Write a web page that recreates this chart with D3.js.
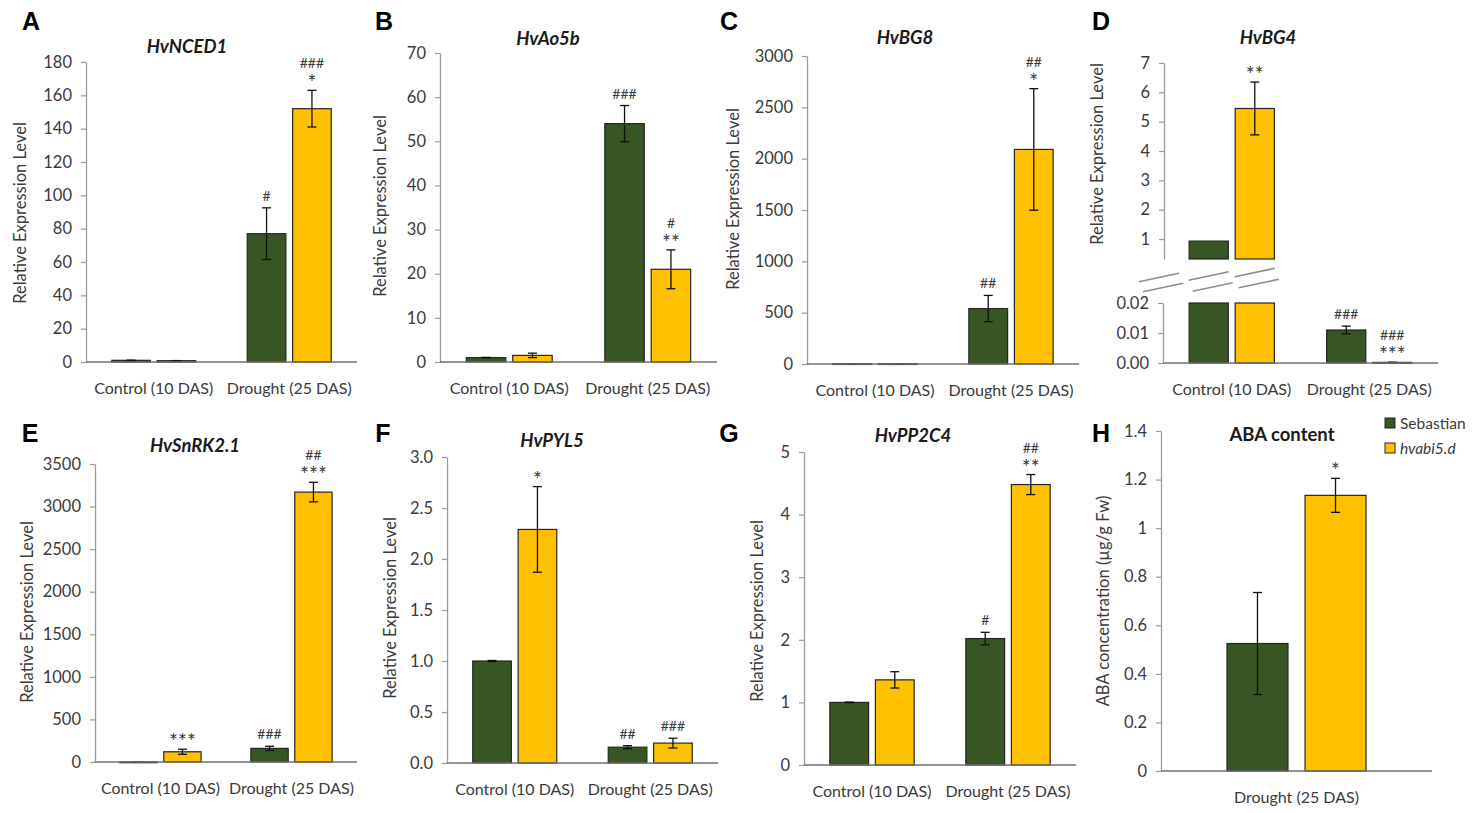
<!DOCTYPE html>
<html><head><meta charset="utf-8">
<script src="https://cdn.jsdelivr.net/npm/d3@7/dist/d3.min.js"></script>
<style>body{margin:0;background:#fff}svg{display:block}text{font-family:Lato,"Open Sans",sans-serif}</style>
</head><body><svg id="c" width="1479" height="813"></svg>
<script>
// ---------------- DATA ----------------
const categories = ["Control (10 DAS)", "Drought (25 DAS)"];
const categoriesH = ["Drought (25 DAS)"];
const seriesNames = ["Sebastian", "hvabi5.d"];

// A HvNCED1
const nced1Seb = [1.0, 77];   const nced1SebErr = [0.05, 15.5];
const nced1Abi = [0.8, 152];  const nced1AbiErr = [0.05, 11];
const nced1SebSig = [[], ["#"]]; const nced1AbiSig = [[], ["###", "*"]];
const nced1Ticks = [0, 20, 40, 60, 80, 100, 120, 140, 160, 180];
// B HvAo5b
const ao5bSeb = [1.0, 54];    const ao5bSebErr = [0.05, 4.1];
const ao5bAbi = [1.5, 21];    const ao5bAbiErr = [0.5, 4.4];
const ao5bSebSig = [[], ["###"]]; const ao5bAbiSig = [[], ["#", "**"]];
const ao5bTicks = [0, 10, 20, 30, 40, 50, 60, 70];
// C HvBG8
const bg8Seb = [3, 540];      const bg8SebErr = [0.5, 128];
const bg8Abi = [3, 2090];     const bg8AbiErr = [0.5, 592];
const bg8SebSig = [[], ["##"]]; const bg8AbiSig = [[], ["##", "*"]];
const bg8Ticks = [0, 500, 1000, 1500, 2000, 2500, 3000];
// D HvBG4 (broken axis)
const bg4Seb = [0.93, 0.011];   const bg4SebErr = [0, 0.0013];
const bg4Abi = [5.45, 0.0002];  const bg4AbiErr = [0.9, 0.00005];
const bg4SebSig = [[], ["###"]]; const bg4AbiSig = [["**"], ["###", "***"]];
const bg4TicksUpper = [1, 2, 3, 4, 5, 6, 7];
const bg4TicksLower = [0, 0.01, 0.02];
// E HvSnRK2.1
const snrkSeb = [1, 160];     const snrkSebErr = [1, 25];
const snrkAbi = [120, 3170];  const snrkAbiErr = [30, 115];
const snrkSebSig = [[], ["###"]]; const snrkAbiSig = [["***"], ["##", "***"]];
const snrkTicks = [0, 500, 1000, 1500, 2000, 2500, 3000, 3500];
// F HvPYL5
const pyl5Seb = [1.0, 0.155]; const pyl5SebErr = [0.005, 0.015];
const pyl5Abi = [2.29, 0.195]; const pyl5AbiErr = [0.42, 0.048];
const pyl5SebSig = [[], ["##"]]; const pyl5AbiSig = [["*"], ["###"]];
const pyl5Ticks = [0, 0.5, 1.0, 1.5, 2.0, 2.5, 3.0];
// G HvPP2C4
const pp2cSeb = [1.0, 2.02];  const pp2cSebErr = [0.005, 0.1];
const pp2cAbi = [1.36, 4.48]; const pp2cAbiErr = [0.13, 0.16];
const pp2cSebSig = [[], ["#"]]; const pp2cAbiSig = [[], ["##", "**"]];
const pp2cTicks = [0, 1, 2, 3, 4, 5];
// H ABA content
const abaSeb = [0.525];  const abaSebErr = [0.21];
const abaAbi = [1.135];  const abaAbiErr = [0.07];
const abaSebSig = [[]];  const abaAbiSig = [["*"]];
const abaTicks = [0, 0.2, 0.4, 0.6, 0.8, 1, 1.2, 1.4];

// ---------------- STYLE ----------------
const COL = ["#375623", "#FFC000"];
const BORDER = "#262626";
const YAXIS = "#9a9a9a", XAXIS = "#707070", TXT = "#3a3a3a";

const svg = d3.select("#c");
const ylab = "Relative Expression Level";

function mkPanel(o) {
  const g = svg.append("g");
  const x = d3.scaleBand().domain(o.cats).range([o.x0, o.x1]);
  const bw = x.bandwidth() * (o.bwf || 0.285), gap = x.bandwidth() * (o.gapf || 0.05);
  const xs = (ci, s) => x(o.cats[ci]) + x.bandwidth() / 2 + (s === 0 ? -gap / 2 - bw : gap / 2);
  return {g, x, bw, xs};
}

function drawAxisY(g, y, ticks, fmt, x0) {
  const ax = g.append("g").attr("transform", `translate(${x0},0)`)
    .call(d3.axisLeft(y).tickValues(ticks).tickFormat(fmt).tickSize(5).tickSizeOuter(0).tickPadding(9));
  ax.select(".domain").attr("stroke", YAXIS).attr("stroke-width", 1.3);
  ax.selectAll(".tick line").attr("stroke", YAXIS).attr("stroke-width", 1.2);
  ax.selectAll(".tick text").attr("fill", TXT).style("font-size", "16.5px").style("font-family", "Lato");
  return ax;
}

function drawXAxis(g, o) {
  g.append("line").attr("x1", o.x0).attr("x2", o.x1).attr("y1", o.yB).attr("y2", o.yB)
    .attr("stroke", XAXIS).attr("stroke-width", 1.5);
}

function drawLabels(g, o, P) {
  g.append("text").attr("x", o.letter[0]).attr("y", o.letter[1]).attr("text-anchor", "middle")
    .attr("dominant-baseline", "central").style("font-family", "Arial, 'Liberation Sans'")
    .style("font-weight", "bold").style("font-size", "25px").attr("fill", "#000").text(o.letterText);
  g.append("text").attr("x", o.title[0]).attr("y", o.title[1]).attr("text-anchor", "middle")
    .attr("dominant-baseline", "central").style("font-weight", "bold")
    .style("font-style", o.titleItalic === false ? "normal" : "italic").style("font-size", "18.5px")
    .attr("fill", "#1a1a1a").text(o.titleText);
  g.append("text").attr("transform", `translate(${o.ylab[0]},${o.ylab[1]}) rotate(-90)`)
    .attr("text-anchor", "middle").attr("dominant-baseline", "central")
    .style("font-size", "16.5px").attr("fill", TXT).text(o.ylabText || ylab);
  g.selectAll(".xl").data(o.cats).enter().append("text")
    .attr("x", d => P.x(d) + P.x.bandwidth() / 2).attr("y", o.yB + 25)
    .attr("text-anchor", "middle").attr("dominant-baseline", "central")
    .style("font-size", "16px").attr("fill", TXT).text(d => d);
}

function drawSig(g, xc, yTop, lines) {
  const n = lines.length;
  lines.forEach((t, i) => {
    const cy = yTop - 12 - (n - 1 - i) * 15;
    const isStar = t.indexOf("*") >= 0;
    g.append("text").attr("x", xc).attr("y", cy + (isStar ? 12 : 5)).attr("text-anchor", "middle")
      .style("font-size", isStar ? "21px" : "14px").attr("fill", TXT).text(t);
  });
}

function drawErr(g, xc, y, v, e) {
  if (!e) return;
  const t = y(v + e), b = y(v - e);
  g.append("line").attr("x1", xc).attr("x2", xc).attr("y1", t).attr("y2", b).attr("stroke", "#111").attr("stroke-width", 1.3);
  [t, b].forEach(yy => g.append("line").attr("x1", xc - 4.5).attr("x2", xc + 4.5).attr("y1", yy).attr("y2", yy)
    .attr("stroke", "#111").attr("stroke-width", 1.3));
}

function panel(o) {
  const P = mkPanel(o);
  const g = P.g;
  const y = d3.scaleLinear().domain(o.domain).range([o.yB, o.yT]);
  drawAxisY(g, y, o.ticks, o.fmt, o.x0);
  const series = [[o.v0, o.e0, o.s0], [o.v1, o.e1, o.s1]];
  series.forEach((ser, s) => {
    const [vals, errs, sigs] = ser;
    vals.forEach((v, ci) => {
      const xL = P.xs(ci, s);
      g.append("rect").attr("x", xL).attr("y", y(v)).attr("width", P.bw)
        .attr("height", Math.max(0.8, o.yB - y(v))).attr("fill", COL[s]).attr("stroke", BORDER).attr("stroke-width", 1.2);
      const xc = xL + P.bw / 2;
      drawErr(g, xc, y, v, errs[ci]);
      if (sigs[ci].length) drawSig(g, xc, y(v + (errs[ci] || 0)), sigs[ci]);
    });
  });
  drawXAxis(g, o);
  drawLabels(g, o, P);
  return {P, y};
}

const f0 = d3.format("d"), f1 = d3.format(".1f"), f2 = d3.format(".2f"), fg = d3.format("~g");

panel({cats: categories, x0: 86, x1: 357, yB: 362, yT: 62, domain: [0, 180], ticks: nced1Ticks, fmt: f0,
  v0: nced1Seb, e0: nced1SebErr, s0: nced1SebSig, v1: nced1Abi, e1: nced1AbiErr, s1: nced1AbiSig,
  letter: [31, 21], letterText: "A", title: [187, 46], titleText: "HvNCED1", ylab: [20, 213]});
panel({cats: categories, x0: 440, x1: 717, yB: 362, yT: 53, domain: [0, 70], ticks: ao5bTicks, fmt: f0,
  v0: ao5bSeb, e0: ao5bSebErr, s0: ao5bSebSig, v1: ao5bAbi, e1: ao5bAbiErr, s1: ao5bAbiSig,
  letter: [384, 21], letterText: "B", title: [548, 38], titleText: "HvAo5b", ylab: [380, 206]});
panel({cats: categories, x0: 807, x1: 1079, yB: 364, yT: 56, domain: [0, 3000], ticks: bg8Ticks, fmt: f0,
  v0: bg8Seb, e0: bg8SebErr, s0: bg8SebSig, v1: bg8Abi, e1: bg8AbiErr, s1: bg8AbiSig,
  letter: [729, 21], letterText: "C", title: [905, 37], titleText: "HvBG8", ylab: [733, 199]});
panel({cats: categories, x0: 95, x1: 357, yB: 762, yT: 464, domain: [0, 3500], ticks: snrkTicks, fmt: f0,
  v0: snrkSeb, e0: snrkSebErr, s0: snrkSebSig, v1: snrkAbi, e1: snrkAbiErr, s1: snrkAbiSig,
  letter: [30, 433], letterText: "E", title: [195, 445], titleText: "HvSnRK2.1", ylab: [27, 612]});
panel({cats: categories, x0: 447, x1: 718, yB: 763, yT: 457, domain: [0, 3], ticks: pyl5Ticks, fmt: f1,
  v0: pyl5Seb, e0: pyl5SebErr, s0: pyl5SebSig, v1: pyl5Abi, e1: pyl5AbiErr, s1: pyl5AbiSig,
  letter: [383, 433], letterText: "F", title: [552, 440], titleText: "HvPYL5", ylab: [390, 608]});
panel({cats: categories, x0: 804, x1: 1076, yB: 765, yT: 452, domain: [0, 5], ticks: pp2cTicks, fmt: f0,
  v0: pp2cSeb, e0: pp2cSebErr, s0: pp2cSebSig, v1: pp2cAbi, e1: pp2cAbiErr, s1: pp2cAbiSig,
  letter: [729, 433], letterText: "G", title: [913, 435], titleText: "HvPP2C4", ylab: [757, 611]});
panel({cats: categoriesH, x0: 1161, x1: 1432, yB: 771, yT: 431, domain: [0, 1.4], ticks: abaTicks, fmt: fg,
  bwf: 0.225, gapf: 0.063,
  v0: abaSeb, e0: abaSebErr, s0: abaSebSig, v1: abaAbi, e1: abaAbiErr, s1: abaAbiSig,
  letter: [1101, 433], letterText: "H", title: [1282, 434], titleText: "ABA content", titleItalic: false,
  ylab: [1103, 601], ylabText: "ABA concentration (µg/g Fw)"});

// ---- Panel D: broken axis ----
(function () {
  const o = {cats: categories, x0: 1163, x1: 1438, yB: 363, yT: 303,
    letter: [1101, 21], letterText: "D", title: [1268, 37], titleText: "HvBG4", ylab: [1097, 154]};
  const P = mkPanel(o);
  const g = P.g;
  const yU = d3.scaleLinear().domain([0.32, 7]).range([259, 63]);
  const yL = d3.scaleLinear().domain([0, 0.02]).range([363, 303]);
  drawAxisY(g, yU, bg4TicksUpper, f0, 1164);
  drawAxisY(g, yL, bg4TicksLower, f2, 1163);
  const series = [[bg4Seb, bg4SebErr, bg4SebSig], [bg4Abi, bg4AbiErr, bg4AbiSig]];
  const lowMax = yL.domain()[1], upMin = yU.domain()[0];
  series.forEach((ser, s) => {
    const [vals, errs, sigs] = ser;
    vals.forEach((v, ci) => {
      const xL = P.xs(ci, s), xc = xL + P.bw / 2;
      const vl = Math.min(v, lowMax);
      g.append("rect").attr("x", xL).attr("y", yL(vl)).attr("width", P.bw)
        .attr("height", Math.max(0.8, 363 - yL(vl))).attr("fill", COL[s]).attr("stroke", BORDER).attr("stroke-width", 1.2);
      let yy = yL;
      if (v > upMin) {
        g.append("rect").attr("x", xL).attr("y", yU(v)).attr("width", P.bw)
          .attr("height", yU(upMin) - yU(v)).attr("fill", COL[s]).attr("stroke", BORDER).attr("stroke-width", 1.2);
        yy = yU;
      }
      drawErr(g, xc, yy, v, errs[ci]);
      if (sigs[ci].length) drawSig(g, xc, yy(v + (errs[ci] || 0)), sigs[ci]);
    });
  });
  // break marks across axis and the two control bars
  const centres = [1163 - 4, P.xs(0, 0) + P.bw / 2, P.xs(0, 1) + P.bw / 2];
  const upY = [277.5, 276, 272.5], loY = [287.5, 287, 283.5];
  centres.forEach((cx, i) => {
    [[cx, upY[i]], [cx + 4, loY[i]]].forEach(([mx, my]) => {
      g.append("line").attr("x1", mx - 20).attr("x2", mx + 20).attr("y1", my + 4.2).attr("y2", my - 4.2)
        .attr("stroke", "#8c8c8c").attr("stroke-width", 1.6);
    });
  });
  drawXAxis(g, o);
  drawLabels(g, o, P);
})();

// ---- Legend ----
const leg = svg.append("g");
seriesNames.forEach((n, i) => {
  leg.append("rect").attr("x", 1385).attr("y", 418 + i * 25).attr("width", 10).attr("height", 10)
    .attr("fill", COL[i]).attr("stroke", BORDER).attr("stroke-width", 1);
  leg.append("text").attr("x", 1400).attr("y", 423 + i * 25).attr("dominant-baseline", "central")
    .style("font-size", "15.5px").style("font-style", i === 1 ? "italic" : "normal").attr("fill", TXT).text(n);
});
</script></body></html>
